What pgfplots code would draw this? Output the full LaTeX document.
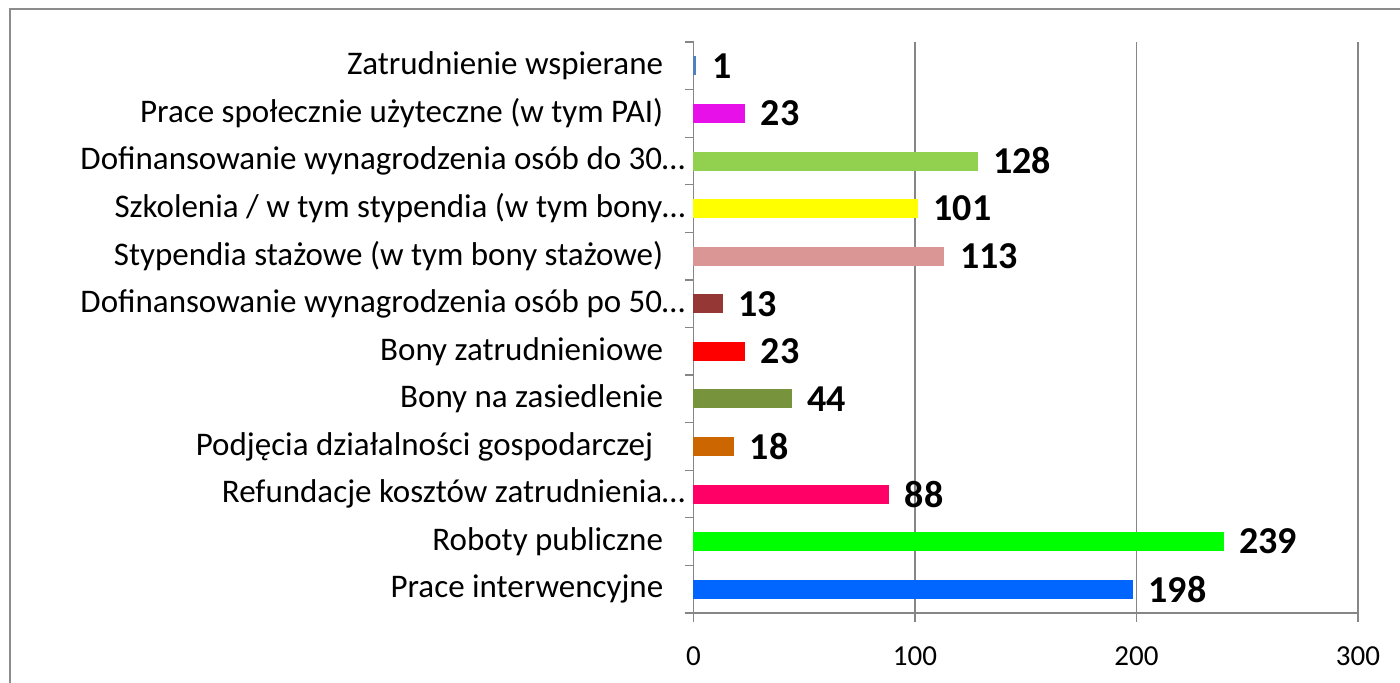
\documentclass[border=0pt]{standalone}
\usepackage{fontspec}
\setmainfont{Carlito}
\usepackage{pgfplots}
\pgfplotsset{compat=1.18}
\definecolor{c0}{HTML}{0066FF}
\definecolor{c1}{HTML}{00FF00}
\definecolor{c2}{HTML}{FF0066}
\definecolor{c3}{HTML}{CC6600}
\definecolor{c4}{HTML}{77933C}
\definecolor{c5}{HTML}{FF0000}
\definecolor{c6}{HTML}{953735}
\definecolor{c7}{HTML}{D99694}
\definecolor{c8}{HTML}{FFFF00}
\definecolor{c9}{HTML}{92D050}
\definecolor{c10}{HTML}{E810E8}
\definecolor{c11}{HTML}{4F81BD}
\definecolor{axgray}{HTML}{868686}
\definecolor{framegray}{HTML}{8C8C8C}
\begin{document}
\begin{tikzpicture}
\useasboundingbox (0pt,0pt) rectangle (700pt,341pt);
\begin{scope}
\clip (0pt,0pt) rectangle (700pt,341pt);
\draw[framegray, line width=1pt] (5pt,-20pt) rectangle (720pt,336.5pt);
\end{scope}
\begin{axis}[
  at={(346.75pt,34.5pt)}, anchor=south west,
  scale only axis, width=332.25pt, height=285.5pt,
  xbar, bar width=9pt, bar shift=0pt,
  xmin=0, xmax=300, ymin=-0.5, ymax=11.5,
  axis x line=bottom, axis y line=left,
  axis line style={draw=axgray, line width=0.6pt, -},
  xtick={0,100,200,300},
  xmajorgrids=true,
  grid style={draw=axgray, line width=0.6pt},
  tick align=outside,
  major tick length=4.5pt,
  tick style={draw=axgray, line width=0.6pt},
  ytick={-0.5,0.5,...,11.5},
  yticklabels={},
  extra y ticks={0,1,2,3,4,5,6,7,8,9,10,11},
  extra y tick labels={
    Prace interwencyjne,
    Roboty publiczne,
    Refundacje kosztów zatrudnienia…\hspace*{-11pt},
    Podjęcia działalności gospodarczej\hspace*{5pt},
    Bony na zasiedlenie,
    Bony zatrudnieniowe,
    Dofinansowanie wynagrodzenia osób po 50…\hspace*{-11pt},
    Stypendia stażowe (w tym bony stażowe),
    Szkolenia / w tym stypendia (w tym bony…\hspace*{-11pt},
    Dofinansowanie wynagrodzenia osób do 30…\hspace*{-11pt},
    Prace społecznie użyteczne (w tym PAI),
    Zatrudnienie wspierane},
  extra y tick style={major tick length=0pt, tick style={draw=none}},
  yticklabel style={anchor=east, inner sep=0pt, xshift=-15pt,
    font=\fontsize{16.5}{19}\selectfont},
  xticklabel style={anchor=north, inner sep=0pt, yshift=-12pt,
    font=\fontsize{14.5}{17}\selectfont},
  /pgf/number format/assume math mode=true,
  nodes near coords,
  nodes near coords style={font=\bfseries\fontsize{19}{22}\selectfont,
    anchor=west, inner sep=0pt, xshift=8pt, text=black},
  clip=false,
]
\addplot[fill=c0, draw=c0] coordinates {(198,0)};
\addplot[fill=c1, draw=c1] coordinates {(239,1)};
\addplot[fill=c2, draw=c2] coordinates {(88,2)};
\addplot[fill=c3, draw=c3] coordinates {(18,3)};
\addplot[fill=c4, draw=c4] coordinates {(44,4)};
\addplot[fill=c5, draw=c5] coordinates {(23,5)};
\addplot[fill=c6, draw=c6] coordinates {(13,6)};
\addplot[fill=c7, draw=c7] coordinates {(113,7)};
\addplot[fill=c8, draw=c8] coordinates {(101,8)};
\addplot[fill=c9, draw=c9] coordinates {(128,9)};
\addplot[fill=c10, draw=c10] coordinates {(23,10)};
\addplot[fill=c11, draw=c11] coordinates {(1,11)};
\end{axis}
\end{tikzpicture}
\end{document}
